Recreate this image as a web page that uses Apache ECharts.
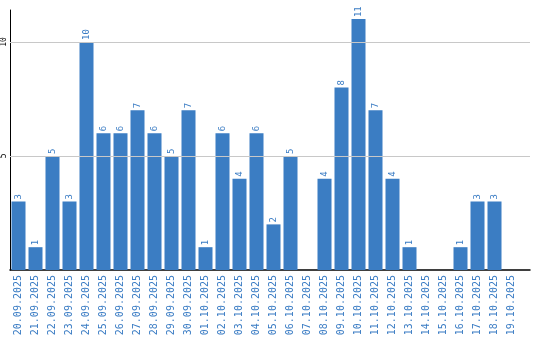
<!DOCTYPE html>
<html><head><meta charset="utf-8">
<script src="https://cdn.jsdelivr.net/npm/echarts@6/dist/echarts.min.js"></script>
<style>html,body{margin:0;padding:0;background:#fff}#c{width:540px;height:340px}</style>
</head><body><div id="c"></div>
<script>
const categories = ["20.09.2025","21.09.2025","22.09.2025","23.09.2025","24.09.2025","25.09.2025","26.09.2025","27.09.2025","28.09.2025","29.09.2025","30.09.2025","01.10.2025","02.10.2025","03.10.2025","04.10.2025","05.10.2025","06.10.2025","07.10.2025","08.10.2025","09.10.2025","10.10.2025","11.10.2025","12.10.2025","13.10.2025","14.10.2025","15.10.2025","16.10.2025","17.10.2025","18.10.2025","19.10.2025"];
const values = [3,1,5,3,10,6,6,7,6,5,7,1,6,4,6,2,5,0,4,8,11,7,4,1,0,0,1,3,3,0];
const yTicks = [5,10];
const yMax = 11.4;

const chart = echarts.init(document.getElementById('c'));
chart.setOption({
  animation: false,
  grid: [
    {left: 10, right: 10, top: 10, bottom: 70},
    {left: 10, right: 20, top: 10, bottom: 70}
  ],
  xAxis: [
    {type: 'value', gridIndex: 0, min: 0, max: 1,
      axisLine: {show: true, onZero: false, lineStyle: {color: '#000', width: 1.5}},
      axisTick: {show: false}, axisLabel: {show: false}, splitLine: {show: false}},
    {type: 'category', gridIndex: 1, data: categories,
      axisLine: {show: false}, axisTick: {show: false},
      axisLabel: {rotate: 90, interval: 0, color: '#3a7cc4', fontFamily: 'DejaVu Sans Mono', fontSize: 10, margin: 5}}
  ],
  yAxis: [
    {type: 'value', gridIndex: 0, min: 0, max: yMax, interval: 5,
      axisLine: {show: true, lineStyle: {color: '#000', width: 1}},
      axisTick: {show: false}, splitLine: {show: false},
      axisLabel: {rotate: 90, color: '#000', fontFamily: 'DejaVu Sans Mono', fontSize: 8, margin: 2,
        formatter: v => yTicks.includes(v) ? String(v) : ''}},
    {type: 'value', gridIndex: 1, min: 0, max: yMax, show: false}
  ],
  series: [
    {type: 'line', xAxisIndex: 0, yAxisIndex: 0, data: [], silent: true,
      markLine: {silent: true, symbol: 'none', label: {show: false},
        lineStyle: {color: '#c8c8c8', type: 'solid', width: 1},
        data: yTicks.map(t => ({yAxis: t}))}},
    {type: 'bar', xAxisIndex: 1, yAxisIndex: 1, data: values, barWidth: 14,
      itemStyle: {color: '#3b7dc3'},
      label: {show: true, position: 'top', rotate: 90, align: 'left', verticalAlign: 'middle', distance: 2,
        color: '#3a7cc4', fontFamily: 'DejaVu Sans Mono', fontSize: 9,
        formatter: p => p.value === 0 ? '' : String(p.value)},
      z: 3}
  ]
});
</script></body></html>
